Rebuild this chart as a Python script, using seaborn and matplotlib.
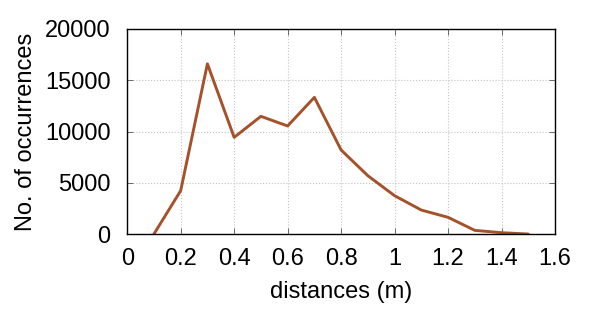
import matplotlib
matplotlib.use("Agg")
import matplotlib.pyplot as plt
import seaborn as sns
import pandas as pd

# data
distances = [0.1, 0.2, 0.3, 0.4, 0.5, 0.6, 0.7, 0.8, 0.9, 1.0, 1.1, 1.2, 1.3, 1.4, 1.5]
occurrences = [0, 4230, 16600, 9430, 11480, 10540, 13330, 8200, 5690, 3740, 2340, 1630, 360, 130, 0]
xticks = [0, 0.2, 0.4, 0.6, 0.8, 1, 1.2, 1.4, 1.6]
xtick_labels = ["0", "0.2", "0.4", "0.6", "0.8", "1", "1.2", "1.4", "1.6"]
yticks = [0, 5000, 10000, 15000, 20000]

sns.set_style("ticks")
plt.rcParams['font.family'] = ['Liberation Sans', 'DejaVu Sans']
plt.rcParams['text.color'] = 'black'
plt.rcParams['axes.labelcolor'] = 'black'

df = pd.DataFrame({"d": distances, "n": occurrences})

fig = plt.figure(figsize=(6, 3.15), dpi=100)
ax = fig.add_axes([0.212, 0.257, 0.713, 0.651])
sns.lineplot(data=df, x="d", y="n", ax=ax, color="#A5512A", linewidth=2.1)

ax.set_xlim(0, 1.6)
ax.set_ylim(0, 20000)
ax.set_xticks(xticks)
ax.set_xticklabels(xtick_labels)
ax.set_yticks(yticks)
ax.tick_params(direction="in", top=True, right=True, labelsize=17, length=4, width=0.6,
               color="#555555", labelcolor="black")
ax.tick_params(axis="y", pad=12)
ax.tick_params(axis="x", pad=10)
ax.grid(True, linestyle=":", color="#c4c4c4", linewidth=0.8)
for s in ax.spines.values():
    s.set_linewidth(1.0)
    s.set_color("black")
ax.set_xlabel("distances (m)", fontsize=17, labelpad=8, color="black")
ax.set_ylabel("No. of occurrences", fontsize=17, labelpad=6, color="black")

fig.savefig("out.png", dpi=100)
